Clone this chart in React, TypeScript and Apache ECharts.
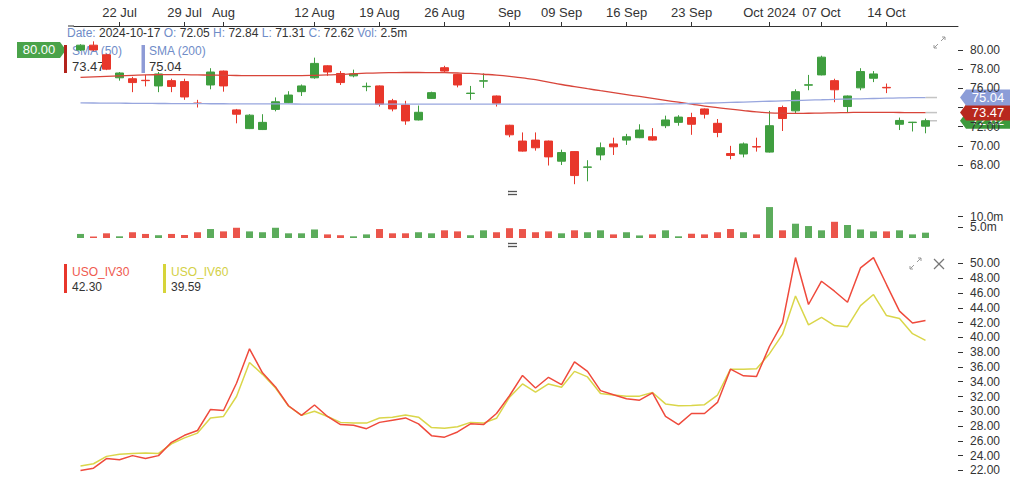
import React, { useEffect, useRef } from "react";
import * as echarts from "echarts";

const dates = [
  "2024-07-17","2024-07-18","2024-07-19","2024-07-22","2024-07-23","2024-07-24","2024-07-25","2024-07-26",
  "2024-07-29","2024-07-30","2024-07-31","2024-08-01","2024-08-02","2024-08-05","2024-08-06","2024-08-07",
  "2024-08-08","2024-08-09","2024-08-12","2024-08-13","2024-08-14","2024-08-15","2024-08-16","2024-08-19",
  "2024-08-20","2024-08-21","2024-08-22","2024-08-23","2024-08-26","2024-08-27","2024-08-28","2024-08-29",
  "2024-08-30","2024-09-03","2024-09-04","2024-09-05","2024-09-06","2024-09-09","2024-09-10","2024-09-11",
  "2024-09-12","2024-09-13","2024-09-16","2024-09-17","2024-09-18","2024-09-19","2024-09-20","2024-09-23",
  "2024-09-24","2024-09-25","2024-09-26","2024-09-27","2024-09-30","2024-10-01","2024-10-02","2024-10-03",
  "2024-10-04","2024-10-07","2024-10-08","2024-10-09","2024-10-10","2024-10-11","2024-10-14","2024-10-15",
  "2024-10-16","2024-10-17",
];
const padCategories = ["", ""];

const tickIndex = [3, 8, 11, 18, 23, 28, 33, 37, 42, 47, 53, 57, 62];
const tickText = ["22 Jul","29 Jul","Aug","12 Aug","19 Aug","26 Aug","Sep","09 Sep","16 Sep","23 Sep","Oct 2024","07 Oct","14 Oct"];

const opens = [80.0,80.5,79.5,77.1,77.0,76.84,76.25,76.8,76.7,74.46,76.35,77.8,73.75,71.8,71.7,73.8,74.5,75.65,77.1,78.35,77.55,77.3,76.17,76.25,74.7,74.25,72.7,74.95,78.15,77.45,75.46,76.75,75.2,72.15,70.5,70.6,70.5,68.4,69.4,67.76,69.05,70.2,70.6,70.85,70.95,72.1,72.45,72.95,73.85,72.35,69.2,69.15,69.92,69.35,74.0,73.65,76.33,77.4,76.8,74.1,76.05,77.05,76.1,72.25,72.43,72.05];
const closes = [80.5,80.0,78.0,77.6,76.6,76.8,77.5,76.2,75.1,74.42,77.7,76.25,73.3,73.2,72.45,74.6,75.3,76.25,78.6,77.7,76.6,77.5,76.21,74.35,73.85,72.6,73.5,75.55,77.8,76.35,75.5,76.79,74.45,71.15,69.45,69.8,68.85,69.3,66.9,67.8,69.8,69.9,70.95,71.65,70.6,72.7,73.0,72.25,73.3,71.4,69.0,70.2,69.88,72.1,72.85,75.65,76.37,79.25,75.85,75.2,77.75,77.5,76.05,72.65,72.47,72.62];
const lows = [79.9,79.9,77.9,76.8,75.6,76.2,75.6,75.6,74.8,74.0,75.9,75.65,72.35,71.75,71.65,73.6,74.45,75.2,77.0,77.3,76.35,77.15,75.7,74.1,73.6,72.2,72.65,74.9,77.6,76.1,74.8,76.05,74.1,70.9,69.4,69.5,67.95,68.0,66.0,66.3,68.5,69.05,70.1,70.8,70.55,71.85,72.1,71.15,72.85,70.9,68.6,68.8,69.4,69.3,71.55,73.4,75.8,77.35,74.55,73.45,75.8,76.65,75.5,71.65,71.5,71.31];
const highs = [80.6,80.9,79.6,77.7,77.2,77.4,77.7,77.0,77.0,74.8,78.1,77.85,73.85,73.3,73.3,75.05,75.7,76.4,79.2,78.4,77.8,77.95,76.6,76.3,74.9,74.7,74.2,75.65,78.35,77.5,76.25,77.55,75.25,72.2,71.4,71.4,70.55,69.6,69.45,68.5,70.35,70.85,71.25,72.25,71.85,73.15,73.2,73.45,73.9,72.8,70.0,70.35,70.85,73.65,74.2,75.9,77.4,79.4,77.0,75.25,78.1,77.8,76.5,72.95,72.5,72.84];

const sma50 = [77.15,77.2,77.25,77.3,77.35,77.4,77.42,77.43,77.42,77.4,77.38,77.36,77.34,77.32,77.32,77.32,77.32,77.33,77.36,77.4,77.45,77.52,77.58,77.62,77.64,77.65,77.65,77.64,77.63,77.6,77.55,77.47,77.38,77.25,77.08,76.9,76.65,76.4,76.18,75.96,75.75,75.55,75.35,75.15,74.95,74.75,74.55,74.35,74.15,73.98,73.82,73.68,73.55,73.45,73.4,73.38,73.4,73.42,73.45,73.47,73.5,73.5,73.49,73.48,73.47,73.47];
const sma200 = [74.48,74.47,74.46,74.45,74.44,74.43,74.42,74.41,74.4,74.4,74.39,74.39,74.38,74.38,74.37,74.37,74.37,74.36,74.36,74.36,74.36,74.36,74.36,74.36,74.36,74.36,74.36,74.36,74.36,74.36,74.36,74.36,74.36,74.36,74.36,74.36,74.36,74.36,74.36,74.36,74.36,74.36,74.36,74.36,74.36,74.37,74.39,74.42,74.45,74.49,74.53,74.57,74.61,74.65,74.69,74.73,74.77,74.81,74.85,74.88,74.91,74.94,74.97,75.0,75.02,75.04];

const volumes = [1.9,0.7,2.2,0.8,2.7,1.9,1.3,1.9,1.4,2.7,4.2,3.1,4.8,3.1,2.7,4.8,2.2,2.2,4.0,1.7,1.3,0.8,1.7,4.2,2.2,2.2,2.7,2.2,3.6,3.1,1.3,3.6,2.7,4.6,4.2,2.7,3.1,2.2,3.6,2.7,3.6,1.7,2.7,1.2,1.7,3.6,0.8,2.0,1.7,2.7,4.2,2.7,1.7,14.5,3.6,6.7,5.6,3.6,7.6,6.1,4.0,3.1,3.1,3.6,1.7,2.5];

const iv30 = [22.0,22.3,23.6,23.45,24.0,23.6,24.0,25.8,26.75,27.4,30.25,30.1,33.8,38.45,35.2,33.3,30.75,29.45,30.85,29.3,28.2,28.1,27.65,28.5,28.8,29.1,28.3,26.7,26.5,27.2,28.3,28.2,29.7,32.1,34.85,33.15,34.6,33.6,36.7,35.4,32.8,32.25,31.7,31.5,32.5,29.3,28.2,29.7,29.7,31.2,35.7,34.8,34.7,38.8,41.95,50.8,44.45,47.6,46.25,44.75,49.4,50.8,47.15,43.55,41.95,42.3];
const iv60 = [22.6,22.9,23.9,24.2,24.3,24.35,24.3,25.6,26.4,27.05,29.1,29.3,32.0,36.6,35.0,33.15,30.7,29.45,30.0,29.3,28.5,28.4,28.4,29.1,29.2,29.5,29.2,27.8,27.7,27.9,28.5,28.4,29.05,31.9,33.7,32.6,33.7,33.25,35.4,34.65,32.4,32.2,32.05,32.05,32.55,31.0,30.75,30.8,30.9,32.2,35.7,35.7,35.75,37.8,40.4,45.6,41.7,42.7,41.6,41.45,44.3,45.8,42.95,42.55,40.5,39.59];

const priceTicks = [68, 70, 72, 74, 76, 78, 80];
const priceLabels = [68, 70, 72, 76, 78, 80];
const volumeTicks = [5, 10];
const ivTicks = [22, 24, 26, 28, 30, 32, 34, 36, 38, 40, 42, 44, 46, 48, 50];

const FONT = "'Liberation Sans', Arial, sans-serif";
const GREEN = "#3f9e3f";
const RED = "#e8372b";

const categories = [...dates, ...padCategories];

const rightAxis = (
  gridIndex: number,
  min: number,
  max: number,
  ticks: number[],
  labels: number[],
  fmt: (v: number) => string
) => ({
  type: "value",
  gridIndex,
  position: "right",
  min,
  max,
  scale: true,
  splitLine: { show: false },
  axisLine: { show: false },
  axisTick: { show: true, length: 5, customValues: ticks, lineStyle: { color: "#333", width: 1 } },
  axisLabel: {
    customValues: labels,
    hideOverlap: false,
    margin: 12,
    color: "#333",
    fontSize: 12,
    fontFamily: FONT,
    formatter: (v: number) => fmt(v),
  },
});

export default function App() {
  const ref = useRef<HTMLDivElement>(null);
  useEffect(() => {
    document.body.style.margin = "0";
    const chart = echarts.init(ref.current!, null, { renderer: "svg" });
    const candleData = dates.map((_, i) => [opens[i], closes[i], lows[i], highs[i]]);
    const volData = volumes.map((v, i) => ({
      value: v,
      itemStyle: { color: closes[i] >= opens[i] ? GREEN : RED, opacity: 0.85 },
    }));
    const isTick = (idx: number) => tickIndex.indexOf(idx) >= 0;
    const volAxis: any = {
      type: "value",
      gridIndex: 1,
      position: "right",
      min: 0,
      max: 15,
      interval: 5,
      splitLine: { show: false },
      axisLine: { show: false },
      axisTick: { show: true, length: 5, customValues: volumeTicks, lineStyle: { color: "#333", width: 1 } },
      axisLabel: {
        hideOverlap: false,
        showMinLabel: true,
        showMaxLabel: true,
        margin: 12,
        color: "#333",
        fontSize: 12,
        fontFamily: FONT,
        formatter: (v: number) => (volumeTicks.indexOf(v) >= 0 ? v.toFixed(1) + "m" : ""),
      },
    };
    const option: any = {
      animation: false,
      backgroundColor: "#ffffff",
      textStyle: { fontFamily: FONT },
      grid: [
        { left: 74, right: 66, top: 35.6, height: 148.6 },
        { left: 74, right: 66, top: 206, height: 32 },
        { left: 74, right: 66, top: 252.4, height: 225.4 },
      ],
      xAxis: [
        {
          type: "category",
          gridIndex: 0,
          data: categories,
          position: "top",
          offset: 9.6,
          boundaryGap: true,
          axisLine: { show: true, lineStyle: { color: "#333", width: 1 } },
          axisTick: { show: true, length: 4, alignWithLabel: true, interval: (idx: number) => isTick(idx), lineStyle: { color: "#333" } },
          axisLabel: {
            interval: (idx: number) => isTick(idx),
            formatter: (_v: string, idx: number) => {
              const k = tickIndex.indexOf(idx);
              return k >= 0 ? tickText[k] : "";
            },
            color: "#333",
            fontSize: 13,
            fontFamily: FONT,
            margin: 7,
          },
          splitLine: { show: false },
        },
        { type: "category", gridIndex: 1, data: categories, boundaryGap: true, show: false },
        { type: "category", gridIndex: 2, data: categories, boundaryGap: true, show: false },
      ],
      yAxis: [
        rightAxis(0, 66, 81.5, priceTicks, priceLabels, (v) => v.toFixed(2)),
        volAxis,
        rightAxis(2, 21, 51.5, ivTicks, ivTicks, (v) => v.toFixed(2)),
      ],
      series: [
        {
          type: "candlestick",
          name: "USO",
          xAxisIndex: 0,
          yAxisIndex: 0,
          data: candleData,
          barWidth: 9,
          itemStyle: { color: GREEN, color0: RED, borderColor: GREEN, borderColor0: RED, borderWidth: 1 },
          z: 3,
        },
        {
          type: "line",
          name: "SMA (50)",
          xAxisIndex: 0,
          yAxisIndex: 0,
          data: sma50,
          showSymbol: false,
          smooth: true,
          lineStyle: { color: "#d8453a", width: 1.3 },
          z: 4,
        },
        {
          type: "line",
          name: "SMA (200)",
          xAxisIndex: 0,
          yAxisIndex: 0,
          data: sma200,
          showSymbol: false,
          smooth: true,
          lineStyle: { color: "#98a6de", width: 1.3 },
          z: 4,
        },
        {
          type: "bar",
          name: "Volume",
          xAxisIndex: 1,
          yAxisIndex: 1,
          data: volData,
          barWidth: 7,
        },
        {
          type: "line",
          name: "USO_IV30",
          xAxisIndex: 2,
          yAxisIndex: 2,
          data: iv30,
          showSymbol: false,
          lineStyle: { color: "#ef4a3c", width: 1.5 },
          z: 4,
        },
        {
          type: "line",
          name: "USO_IV60",
          xAxisIndex: 2,
          yAxisIndex: 2,
          data: iv60,
          showSymbol: false,
          lineStyle: { color: "#dad64a", width: 1.5 },
          z: 3,
        },
      ],
    };
    chart.setOption(option);

    const last = dates.length - 1;
    const xEnd = chart.convertToPixel({ xAxisIndex: 0 }, dates[last]) as number;
    const py = (v: number) => chart.convertToPixel({ yAxisIndex: 0 }, v) as number;
    const tag = (v: number, fill: string, z: number) => {
      const c = py(v);
      return {
        type: "group",
        z,
        children: [
          { type: "line", shape: { x1: xEnd, y1: c, x2: 937, y2: c }, style: { stroke: "#c4c4c4", lineWidth: 1.5 } },
          {
            type: "polygon",
            shape: { points: [[960, c], [966, c - 8], [1010, c - 8], [1010, c + 8], [966, c + 8]] },
            style: { fill },
          },
          {
            type: "text",
            x: 988,
            y: c,
            style: { text: v.toFixed(2), fill: "#fff", fontSize: 13, fontFamily: FONT, align: "center", verticalAlign: "middle" },
          },
        ],
      };
    };
    const y80 = py(80);
    const txt = (x: number, y: number, text: string, fill: string, size = 12) => ({
      type: "text",
      x,
      y,
      style: { text, fill, fontSize: size, fontFamily: FONT, verticalAlign: "middle" },
    });
    const lbl = "#6f8cc8";
    const graphic: any[] = [
      { type: "line", shape: { x1: 68, y1: 26, x2: 74, y2: 26 }, style: { stroke: "#333", lineWidth: 1 } },
      {
        type: "text",
        x: 67,
        y: 32.5,
        style: {
          text: "{l|Date:} {v|2024-10-17} {l|O:} {v|72.05} {l|H:} {v|72.84} {l|L:} {v|71.31} {l|C:} {v|72.62} {l|Vol:} {v|2.5m}",
          fontSize: 12,
          fontFamily: FONT,
          verticalAlign: "middle",
          rich: {
            l: { fill: lbl, fontSize: 12, fontFamily: FONT },
            v: { fill: "#333", fontSize: 12, fontFamily: FONT },
          },
        },
      },
      {
        type: "polygon",
        shape: { points: [[17, y80 - 8], [60, y80 - 8], [66, y80], [60, y80 + 8], [17, y80 + 8]] },
        style: { fill: "#4aa34a" },
      },
      { type: "text", x: 39, y: y80, style: { text: "80.00", fill: "#fff", fontSize: 13, fontFamily: FONT, align: "center", verticalAlign: "middle" } },
      { type: "rect", shape: { x: 64, y: 45, width: 3, height: 28 }, style: { fill: "#b3231c" } },
      txt(72, 50.5, "SMA (50)", lbl),
      txt(72, 66.5, "73.47", "#333", 13),
      { type: "rect", shape: { x: 141.5, y: 45, width: 3.5, height: 28 }, style: { fill: "#8e9bd6" } },
      txt(149, 50.5, "SMA (200)", lbl),
      txt(149, 66.5, "75.04", "#333", 13),
      { type: "rect", shape: { x: 64, y: 264, width: 3, height: 29 }, style: { fill: "#e8362b" } },
      txt(72, 271.5, "USO_IV30", "#ef5a4f"),
      txt(72, 286.5, "42.30", "#333"),
      { type: "rect", shape: { x: 163, y: 264, width: 3, height: 29 }, style: { fill: "#d6d43a" } },
      txt(171, 271.5, "USO_IV60", "#d3d045"),
      txt(171, 286.5, "39.59", "#333"),
      { type: "line", shape: { x1: 508, y1: 191.5, x2: 517, y2: 191.5 }, style: { stroke: "#555", lineWidth: 1.3 } },
      { type: "line", shape: { x1: 508, y1: 194.5, x2: 517, y2: 194.5 }, style: { stroke: "#555", lineWidth: 1.3 } },
      { type: "line", shape: { x1: 508, y1: 243.5, x2: 517, y2: 243.5 }, style: { stroke: "#555", lineWidth: 1.3 } },
      { type: "line", shape: { x1: 508, y1: 246.5, x2: 517, y2: 246.5 }, style: { stroke: "#555", lineWidth: 1.3 } },
      { type: "line", shape: { x1: 941, y1: 41, x2: 945, y2: 37 }, style: { stroke: "#999", lineWidth: 1 } },
      { type: "polyline", shape: { points: [[942, 37], [945, 37], [945, 40]] }, style: { stroke: "#999", lineWidth: 1, fill: "none" } },
      { type: "line", shape: { x1: 934, y1: 48, x2: 938, y2: 44 }, style: { stroke: "#999", lineWidth: 1 } },
      { type: "polyline", shape: { points: [[934, 45], [934, 48], [937, 48]] }, style: { stroke: "#999", lineWidth: 1, fill: "none" } },
      { type: "line", shape: { x1: 917, y1: 262, x2: 921, y2: 258 }, style: { stroke: "#999", lineWidth: 1 } },
      { type: "polyline", shape: { points: [[918, 258], [921, 258], [921, 261]] }, style: { stroke: "#999", lineWidth: 1, fill: "none" } },
      { type: "line", shape: { x1: 910, y1: 269, x2: 914, y2: 265 }, style: { stroke: "#999", lineWidth: 1 } },
      { type: "polyline", shape: { points: [[910, 266], [910, 269], [913, 269]] }, style: { stroke: "#999", lineWidth: 1, fill: "none" } },
      { type: "line", shape: { x1: 934, y1: 259, x2: 944, y2: 269 }, style: { stroke: "#777", lineWidth: 1.2 } },
      { type: "line", shape: { x1: 944, y1: 259, x2: 934, y2: 269 }, style: { stroke: "#777", lineWidth: 1.2 } },
      tag(72.62, "#3c9a3c", 10),
      tag(73.47, "#b8281e", 11),
      tag(75.04, "#8c9dd8", 12),
    ];
    chart.setOption({ graphic });
    return () => chart.dispose();
  }, []);
  return <div ref={ref} style={{ position: "fixed", left: 0, top: 0, width: 1024, height: 491 }} />;
}
